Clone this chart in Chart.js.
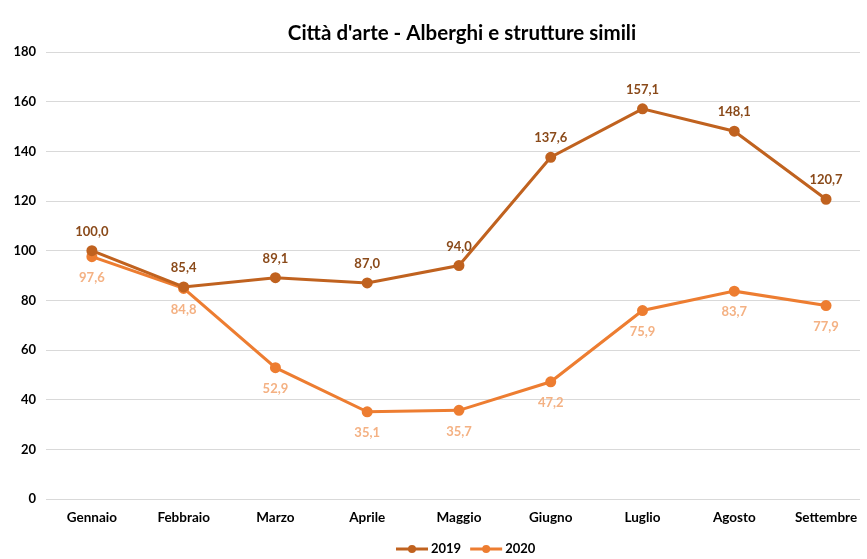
<!DOCTYPE html>
<html>
<head>
<meta charset="utf-8">
<script src="https://cdn.jsdelivr.net/npm/chart.js@4/dist/chart.umd.min.js"></script>
<style>
  html, body { margin: 0; padding: 0; background: #fff; }
  #wrap { width: 867px; height: 559px; }
</style>
</head>
<body>
<div id="wrap"><canvas id="chart" width="867" height="559"></canvas></div>
<script>
const months = ["Gennaio", "Febbraio", "Marzo", "Aprile", "Maggio", "Giugno", "Luglio", "Agosto", "Settembre"];
const values2019 = [100.0, 85.4, 89.1, 87.0, 94.0, 137.6, 157.1, 148.1, 120.7];
const values2020 = [97.6, 84.8, 52.9, 35.1, 35.7, 47.2, 75.9, 83.7, 77.9];
const yTicks = [0, 20, 40, 60, 80, 100, 120, 140, 160, 180];
const chartTitle = "Città d'arte - Alberghi e strutture simili";

const FONT = "Lato, 'Open Sans', sans-serif";
const color2019 = "#c0621f";
const color2020 = "#ed7d31";
const label2019 = "#8a4a1a";
const label2020 = "#f4b183";

const fmt = v => v.toFixed(1).replace(".", ",");
// month index as x so the plot can run past the right edge like the Excel export
const toPoints = vals => vals.map((v, i) => ({ x: i, y: v }));

// title, value labels + legend drawn by hand (Excel style)
const excelExtras = {
    id: "excelExtras",
    afterDatasetsDraw(chart) {
        const ctx = chart.ctx;
        ctx.save();
        ctx.textAlign = "center";
        ctx.textBaseline = "middle";

        ctx.fillStyle = "#000";
        ctx.font = "bold 20.5px " + FONT;
        ctx.fillText(chartTitle, 462, 33);

        ctx.font = "bold 13px " + FONT;
        chart.data.datasets.forEach((ds, i) => {
            const meta = chart.getDatasetMeta(i);
            meta.data.forEach((pt, j) => {
                const above = i === 0;
                ctx.fillStyle = above ? label2019 : label2020;
                ctx.fillText(fmt(ds.data[j].y), pt.x, pt.y + (above ? -19 : 21));
            });
        });

        // legend
        const items = [["2019", color2019], ["2020", color2020]];
        let x = 396;
        const y = 549;
        ctx.textAlign = "left";
        items.forEach(([txt, col]) => {
            ctx.strokeStyle = col;
            ctx.lineWidth = 3;
            ctx.beginPath();
            ctx.moveTo(x, y);
            ctx.lineTo(x + 32, y);
            ctx.stroke();
            ctx.fillStyle = col;
            ctx.beginPath();
            ctx.arc(x + 16, y, 4, 0, Math.PI * 2);
            ctx.fill();
            ctx.fillStyle = "#000";
            ctx.fillText(txt, x + 35, y);
            x += 35 + ctx.measureText(txt).width + 9;
        });
        ctx.restore();
    }
};

new Chart(document.getElementById("chart"), {
    type: "line",
    data: {
        datasets: [
            {
                label: "2019",
                data: toPoints(values2019),
                borderColor: color2019,
                backgroundColor: color2019,
                borderWidth: 3,
                pointRadius: 4,
                pointHoverRadius: 4,
                tension: 0
            },
            {
                label: "2020",
                data: toPoints(values2020),
                borderColor: color2020,
                backgroundColor: color2020,
                borderWidth: 3,
                pointRadius: 4,
                pointHoverRadius: 4,
                tension: 0
            }
        ]
    },
    options: {
        responsive: false,
        animation: false,
        layout: { padding: { top: 52, right: 0, bottom: 0, left: 0 } },
        plugins: {
            legend: { display: false },
            tooltip: { enabled: false },
            title: { display: false }
        },
        scales: {
            x: {
                type: "linear",
                min: -0.5,
                max: 8.37,
                afterBuildTicks(scale) { scale.ticks = months.map((m, i) => ({ value: i })); },
                grid: { display: false },
                border: { display: false },
                ticks: {
                    color: "#000",
                    font: { family: FONT, size: 13.5, weight: "bold" },
                    padding: 3,
                    maxRotation: 0,
                    autoSkip: false,
                    callback: v => months[v]
                },
                afterFit(scale) { scale.height = 60; }
            },
            y: {
                min: 0,
                max: 180,
                afterBuildTicks(scale) { scale.ticks = yTicks.map(v => ({ value: v })); },
                grid: { color: "#d9d9d9", lineWidth: 1, drawTicks: false },
                border: { display: false },
                ticks: {
                    color: "#000",
                    font: { family: FONT, size: 13, weight: "bold" },
                    padding: 10
                },
                afterFit(scale) { scale.width = 46; }
            }
        }
    },
    plugins: [excelExtras]
});
</script>
</body>
</html>
